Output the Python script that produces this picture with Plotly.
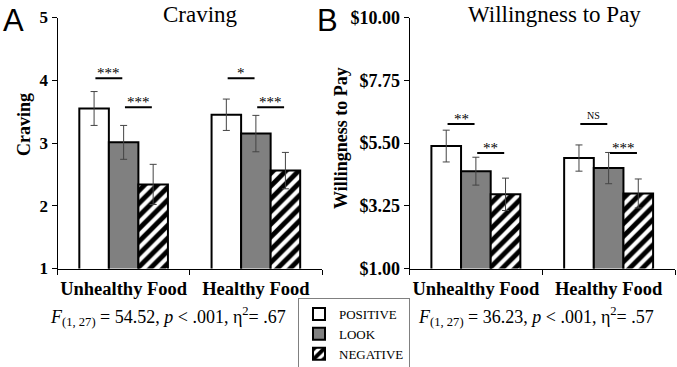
import plotly.graph_objects as go

W, H = 677, 367

categories = ["Unhealthy Food", "Healthy Food"]
conditions = ["POSITIVE", "LOOK", "NEGATIVE"]

craving_positive = [3.55, 3.45]
craving_look = [3.01, 3.15]
craving_negative = [2.34, 2.56]
craving_err_positive = [0.27, 0.25]
craving_err_look = [0.27, 0.29]
craving_err_negative = [0.32, 0.29]

wtp_positive = [5.39, 4.96]
wtp_look = [4.49, 4.60]
wtp_negative = [3.66, 3.69]
wtp_err_positive = [0.57, 0.47]
wtp_err_look = [0.50, 0.56]
wtp_err_negative = [0.58, 0.52]

craving_sig_labels = [["***", "***"], ["*", "***"]]   # per category: [pos-look, look-neg]
craving_sig_levels = [4.03, 3.57]
wtp_sig_labels = [["**", "**"], ["NS", "***"]]
wtp_sig_levels = [6.18, 5.14]

craving_ticks = [1, 2, 3, 4, 5]
craving_ticklabels = ["1", "2", "3", "4", "5"]
wtp_ticks = [1.00, 3.25, 5.50, 7.75, 10.00]
wtp_ticklabels = ["$1.00", "$3.25", "$5.50", "$7.75", "$10.00"]

stat_a = "<i>F</i><sub>(1, 27)</sub> = 54.52, <i>p</i> &lt; .001, η<sup>2</sup>= .67"
stat_b = "<i>F</i><sub>(1, 27)</sub> = 36.23, <i>p</i> &lt; .001, η<sup>2</sup>= .57"

SERIF = "Liberation Serif"
SANS = "Liberation Sans"


def px(x):
    return x / W


def py(y):
    return 1 - y / H


BARGAP = 0.33
bw = (1 - BARGAP) / 3

styles = [
    dict(color="white"),
    dict(color="#808080"),
    dict(color="white", pattern=dict(shape="/", fgcolor="#000000", fgopacity=1,
                                     bgcolor="white", size=9, solidity=0.55)),
]

fig = go.Figure()

panels = [
    ("x", "y", [craving_positive, craving_look, craving_negative],
     [craving_err_positive, craving_err_look, craving_err_negative], True),
    ("x2", "y2", [wtp_positive, wtp_look, wtp_negative],
     [wtp_err_positive, wtp_err_look, wtp_err_negative], False),
]

for xa, ya, vals, errs, show in panels:
    for i, name in enumerate(conditions):
        m = dict(styles[i])
        m["line"] = dict(color="black", width=2)
        fig.add_trace(go.Bar(
            x=categories, y=vals[i], name=name, xaxis=xa, yaxis=ya,
            marker=m, showlegend=show, legendgroup=name,
            error_y=dict(type="data", array=errs[i], visible=True,
                         color="#444444", thickness=1, width=3.5),
        ))

shapes = []
annotations = []


def add_sig(xref, yref, labels, levels):
    for ci, labs in enumerate(labels):
        pairs = [(ci - bw, ci), (ci, ci + bw)]
        for k, (x0, x1) in enumerate(pairs):
            lev = levels[k]
            shapes.append(dict(type="line", xref=xref, yref=yref, x0=x0 + 0.01, x1=x1 - 0.01,
                               y0=lev, y1=lev, line=dict(color="black", width=2)))
            lab = labs[k]
            fs = 10 if lab == "NS" else 15
            ys = 1 if lab == "NS" else -5
            annotations.append(dict(xref=xref, yref=yref, x=(x0 + x1) / 2, y=lev, text=lab,
                                    showarrow=False, xanchor="center", yanchor="bottom", yshift=ys,
                                    font=dict(family=SERIF, size=fs, color="black")))


add_sig("x", "y", craving_sig_labels, craving_sig_levels)
add_sig("x2", "y2", wtp_sig_labels, wtp_sig_levels)


def ann(x, y, text, family, size, angle=0):
    return dict(xref="paper", yref="paper", x=px(x), y=py(y), text=text, showarrow=False,
                xanchor="center", yanchor="middle", textangle=angle,
                font=dict(family=family, size=size, color="black"))


annotations += [
    ann(13, 20, "A", SANS, 31),
    ann(327, 20, "B", SANS, 31),
    ann(200, 14, "Craving", SERIF, 23),
    ann(554, 14, "Willingness to Pay", SERIF, 23),
    ann(168, 316, stat_a, SERIF, 18),
    ann(536, 316, stat_b, SERIF, 18),
    ann(24, 125, "<b>Craving</b>", SERIF, 18, -90),
    ann(341, 138, "<b>Willingness to Pay</b>", SERIF, 18, -90),
]

ydom = [py(268.5), py(17.5)]

axis_common = dict(showline=True, linecolor="black", linewidth=1, ticks="outside",
                   tickcolor="black", ticklen=5, showgrid=False, zeroline=False,
                   automargin=False)

bold_cats = ["<b>" + c + "</b>" for c in categories]

fig.update_layout(
    width=W, height=H,
    margin=dict(l=0, r=0, t=0, b=0, autoexpand=False),
    paper_bgcolor="white", plot_bgcolor="white",
    barmode="group", bargap=BARGAP, bargroupgap=0,
    showlegend=True,
    legend=dict(x=px(298), y=py(298), xanchor="left", yanchor="top",
                bordercolor="#808080", borderwidth=1, bgcolor="white",
                font=dict(family=SERIF, size=13, color="black"),
                tracegroupgap=0, itemwidth=30),
    xaxis=dict(domain=[px(57.5), px(322)], anchor="y", type="category", tickson="boundaries",
               tickvals=categories, ticktext=bold_cats, tickangle=0, ticklabelstandoff=3,
               tickfont=dict(family=SERIF, size=18.5, color="black"),
               **axis_common),
    yaxis=dict(domain=ydom, anchor="x", range=[1, 5], tickvals=craving_ticks,
               ticktext=["<b>" + t + "</b>" for t in craving_ticklabels],
               tickfont=dict(family=SERIF, size=17, color="black"),
               **axis_common),
    xaxis2=dict(domain=[px(409.5), px(675)], anchor="y2", type="category", tickson="boundaries",
                tickvals=categories, ticktext=bold_cats, tickangle=0, ticklabelstandoff=3,
                tickfont=dict(family=SERIF, size=18.5, color="black"),
                **axis_common),
    yaxis2=dict(domain=ydom, anchor="x2", range=[1, 10], tickvals=wtp_ticks,
                ticktext=["<b>" + t + "</b>" for t in wtp_ticklabels],
                tickfont=dict(family=SERIF, size=18, color="black"),
                **axis_common),
    shapes=shapes,
    annotations=annotations,
)

fig.write_html("out.html", config={"displayModeBar": False},
               post_script="document.body.style.margin='0';")
